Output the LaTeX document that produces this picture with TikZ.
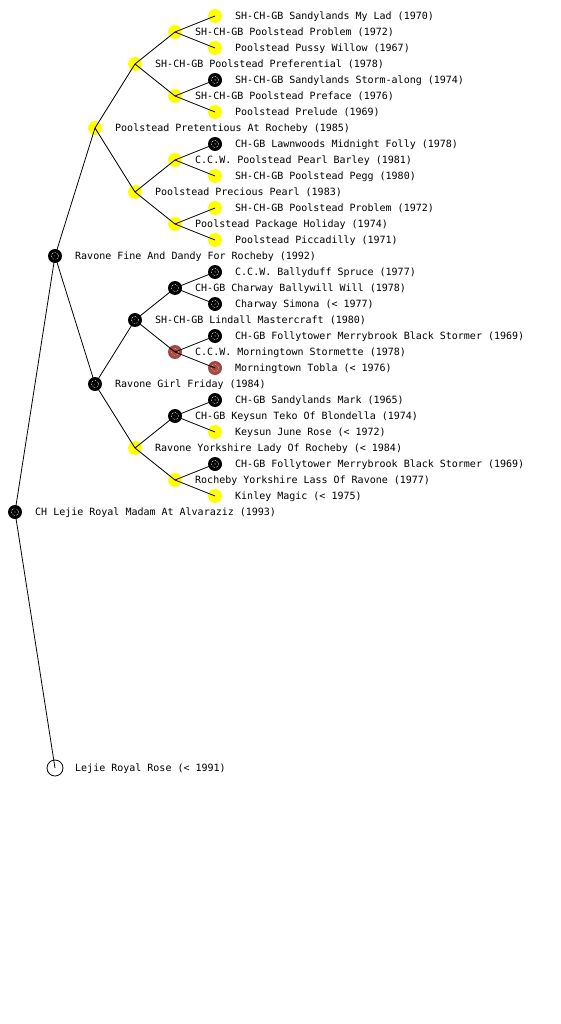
\documentclass[tikz,border=0pt]{standalone}
\usepackage{fontspec}
\newfontfamily\pedmono{DejaVu Sans Mono}
\definecolor{pedyellow}{RGB}{255,255,0}
\definecolor{pedbrown}{RGB}{165,72,64}
\tikzset{
  nd/.style={circle, inner sep=0pt, minimum size=14pt, draw=none},
  ylw/.style={nd, fill=pedyellow},
  blk/.style={nd, fill=black, path picture={\draw[white, densely dotted, line width=0.6pt] (path picture bounding box.center) circle (3.6pt); \fill[white] (path picture bounding box.center) circle (0.6pt);}},
  brn/.style={nd, fill=pedbrown, path picture={\draw[white!70!pedbrown, densely dotted, line width=0.6pt] (path picture bounding box.center) circle (3.6pt);}},
  emp/.style={circle, inner sep=0pt, minimum size=16pt, draw=black, fill=white, line width=0.8pt},
  lbl/.style={anchor=base west, inner sep=0pt, font=\pedmono\fontsize{10}{12}\selectfont},
  edge/.style={draw=black, line width=0.8pt}
}
\newcommand\pn[5]{\node[#4] (#1) at (#2,-#3) {}; \node[lbl] (#1t) at (#2+20,-#3-3.6) {#5};}
\begin{document}
\begin{tikzpicture}[x=1pt,y=1pt]
\fill[white] (0,0) rectangle (560,-1024);
\useasboundingbox (0,0) rectangle (560,-1024);
% level 0-1
\pn{r}{15}{512}{blk}{CH Lejie Royal Madam At Alvaraziz (1993)}
\pn{s}{55}{256}{blk}{Ravone Fine And Dandy For Rocheby (1992)}
\pn{d}{55}{768}{emp}{Lejie Royal Rose (< 1991)}
% level 2
\pn{a}{95}{128}{ylw}{Poolstead Pretentious At Rocheby (1985)}
\pn{b}{95}{384}{blk}{Ravone Girl Friday (1984)}
% level 3
\pn{aa}{135}{64}{ylw}{SH-CH-GB Poolstead Preferential (1978)}
\pn{ab}{135}{192}{ylw}{Poolstead Precious Pearl (1983)}
\pn{ba}{135}{320}{blk}{SH-CH-GB Lindall Mastercraft (1980)}
\pn{bb}{135}{448}{ylw}{Ravone Yorkshire Lady Of Rocheby (< 1984)}
% level 4
\pn{aaa}{175}{32}{ylw}{SH-CH-GB Poolstead Problem (1972)}
\pn{aab}{175}{96}{ylw}{SH-CH-GB Poolstead Preface (1976)}
\pn{aba}{175}{160}{ylw}{C.C.W. Poolstead Pearl Barley (1981)}
\pn{abb}{175}{224}{ylw}{Poolstead Package Holiday (1974)}
\pn{baa}{175}{288}{blk}{CH-GB Charway Ballywill Will (1978)}
\pn{bab}{175}{352}{brn}{C.C.W. Morningtown Stormette (1978)}
\pn{bba}{175}{416}{blk}{CH-GB Keysun Teko Of Blondella (1974)}
\pn{bbb}{175}{480}{ylw}{Rocheby Yorkshire Lass Of Ravone (1977)}
% level 5
\pn{aaaa}{215}{16}{ylw}{SH-CH-GB Sandylands My Lad (1970)}
\pn{aaab}{215}{48}{ylw}{Poolstead Pussy Willow (1967)}
\pn{aaba}{215}{80}{blk}{SH-CH-GB Sandylands Storm-along (1974)}
\pn{aabb}{215}{112}{ylw}{Poolstead Prelude (1969)}
\pn{abaa}{215}{144}{blk}{CH-GB Lawnwoods Midnight Folly (1978)}
\pn{abab}{215}{176}{ylw}{SH-CH-GB Poolstead Pegg (1980)}
\pn{abba}{215}{208}{ylw}{SH-CH-GB Poolstead Problem (1972)}
\pn{abbb}{215}{240}{ylw}{Poolstead Piccadilly (1971)}
\pn{baaa}{215}{272}{blk}{C.C.W. Ballyduff Spruce (1977)}
\pn{baab}{215}{304}{blk}{Charway Simona (< 1977)}
\pn{baba}{215}{336}{blk}{CH-GB Follytower Merrybrook Black Stormer (1969)}
\pn{babb}{215}{368}{brn}{Morningtown Tobla (< 1976)}
\pn{bbaa}{215}{400}{blk}{CH-GB Sandylands Mark (1965)}
\pn{bbab}{215}{432}{ylw}{Keysun June Rose (< 1972)}
\pn{bbba}{215}{464}{blk}{CH-GB Follytower Merrybrook Black Stormer (1969)}
\pn{bbbb}{215}{496}{ylw}{Kinley Magic (< 1975)}
% connectors
\foreach \p/\c in {r/s, r/d, s/a, s/b, a/aa, a/ab, b/ba, b/bb,
  aa/aaa, aa/aab, ab/aba, ab/abb, ba/baa, ba/bab, bb/bba, bb/bbb,
  aaa/aaaa, aaa/aaab, aab/aaba, aab/aabb, aba/abaa, aba/abab, abb/abba, abb/abbb,
  baa/baaa, baa/baab, bab/baba, bab/babb, bba/bbaa, bba/bbab, bbb/bbba, bbb/bbbb}
  \draw[edge] (\p.center) -- (\c.center);
\end{tikzpicture}
\end{document}
